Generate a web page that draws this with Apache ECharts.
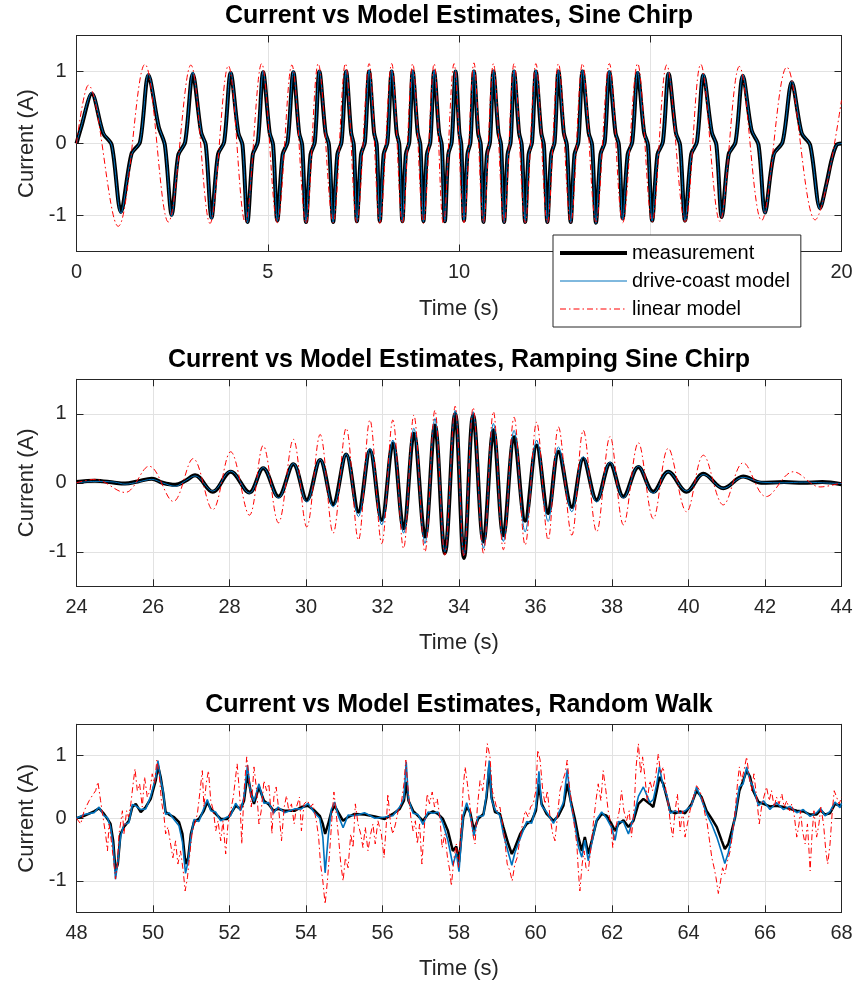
<!DOCTYPE html>
<html>
<head>
<meta charset="utf-8">
<script src="https://cdn.jsdelivr.net/npm/echarts@6/dist/echarts.min.js"></script>
<style>
  html, body { margin: 0; padding: 0; background: #fff; }
  #chart { width: 857px; height: 986px; }
</style>
</head>
<body>
<div id="chart"></div>
<script>
// ---- data ----
const titles = [
  'Current vs Model Estimates, Sine Chirp',
  'Current vs Model Estimates, Ramping Sine Chirp',
  'Current vs Model Estimates, Random Walk'
];
const seriesNames = ['measurement', 'drive-coast model', 'linear model'];
const yTicks = [-1, 0, 1];

// sine chirp: key points (extrema and zero-crossing shoulders)
const chirpTime = [0, 0.12, 0.40,
  0.70, 0.92, 1.16, 1.44, 1.66, 1.88,
  2.15, 2.31, 2.49, 2.66, 2.84, 3.04,
  3.26, 3.38, 3.53, 3.70, 3.86, 4.03,
  4.23, 4.34, 4.47, 4.61, 4.74, 4.88,
  5.05, 5.14, 5.25, 5.39, 5.52, 5.67,
  5.82, 5.90, 6.00, 6.12, 6.23, 6.35,
  6.51, 6.60, 6.71, 6.82, 6.93, 7.05,
  7.18, 7.25, 7.33, 7.44, 7.54, 7.65,
  7.78, 7.85, 7.93, 8.03, 8.13, 8.24,
  8.37, 8.44, 8.52, 8.61, 8.70, 8.79,
  8.92, 8.99, 9.07, 9.16, 9.25, 9.35,
  9.48, 9.55, 9.63, 9.72, 9.81, 9.91,
  10.01, 10.06, 10.13, 10.22, 10.30, 10.39,
  10.50, 10.57, 10.64, 10.73, 10.81, 10.90,
  11.03, 11.10, 11.18, 11.27, 11.35, 11.44,
  11.57, 11.64, 11.73, 11.82, 11.91, 12.01,
  12.15, 12.22, 12.31, 12.41, 12.50, 12.60,
  12.74, 12.82, 12.92, 13.02, 13.12, 13.23,
  13.39, 13.48, 13.58, 13.70, 13.81, 13.93,
  14.09, 14.18, 14.28, 14.41, 14.53, 14.67,
  14.84, 14.94, 15.05, 15.19, 15.33, 15.48,
  15.67, 15.78, 15.91, 16.07, 16.22, 16.39,
  16.61, 16.73, 16.87, 17.05, 17.23, 17.42,
  17.65, 17.83, 18.00, 18.23, 18.46, 18.70,
  18.96, 19.18, 19.44, 19.61, 19.74, 19.87, 20.00];
const chirpMeasurement = [0, 0.22, 0.69,
  0.14, -0.02, -0.95, -0.14, 0.02, 0.95,
  0.23, -0.02, -0.99, -0.16, 0.02, 0.97,
  0.15, -0.02, -1.03, -0.15, 0.02, 0.98,
  0.15, -0.02, -1.09, -0.15, 0.02, 0.99,
  0.15, -0.02, -1.07, -0.15, 0.02, 0.99,
  0.15, -0.02, -1.09, -0.15, 0.02, 1.00,
  0.15, -0.02, -1.09, -0.15, 0.02, 1.00,
  0.15, -0.02, -1.08, -0.15, 0.02, 1.00,
  0.15, -0.02, -1.08, -0.15, 0.02, 1.00,
  0.15, -0.02, -1.08, -0.15, 0.02, 1.00,
  0.15, -0.02, -1.08, -0.15, 0.02, 1.00,
  0.15, -0.02, -1.08, -0.15, 0.02, 1.00,
  0.15, -0.02, -1.07, -0.15, 0.02, 1.00,
  0.15, -0.02, -1.09, -0.15, 0.02, 1.00,
  0.15, -0.02, -1.09, -0.15, 0.02, 1.00,
  0.15, -0.02, -1.09, -0.15, 0.02, 1.00,
  0.15, -0.02, -1.09, -0.15, 0.02, 1.00,
  0.15, -0.02, -1.09, -0.15, 0.02, 1.00,
  0.15, -0.02, -1.10, -0.15, 0.02, 0.99,
  0.15, -0.02, -1.04, -0.15, 0.02, 0.98,
  0.15, -0.02, -1.07, -0.15, 0.02, 0.97,
  0.15, -0.02, -1.07, -0.15, 0.02, 0.95,
  0.15, -0.02, -1.02, -0.15, 0.02, 0.94,
  0.18, -0.02, -0.96, -0.15, 0.02, 0.85,
  0.14, -0.02, -0.90, -0.55, -0.23, -0.02, 0.00];
const chirpDriveCoast = [0, 0.23, 0.71,
  0.15, -0.02, -0.97, -0.15, 0.02, 0.97,
  0.24, -0.02, -1.01, -0.17, 0.02, 0.99,
  0.16, -0.02, -1.05, -0.16, 0.02, 1.00,
  0.16, -0.02, -1.10, -0.16, 0.02, 1.01,
  0.16, -0.02, -1.08, -0.16, 0.02, 1.01,
  0.16, -0.02, -1.10, -0.16, 0.02, 1.02,
  0.16, -0.02, -1.10, -0.16, 0.02, 1.02,
  0.16, -0.02, -1.09, -0.16, 0.02, 1.02,
  0.16, -0.02, -1.09, -0.16, 0.02, 1.02,
  0.16, -0.02, -1.09, -0.16, 0.02, 1.02,
  0.16, -0.02, -1.09, -0.16, 0.02, 1.02,
  0.16, -0.02, -1.09, -0.16, 0.02, 1.02,
  0.16, -0.02, -1.08, -0.16, 0.02, 1.02,
  0.16, -0.02, -1.10, -0.16, 0.02, 1.02,
  0.16, -0.02, -1.10, -0.16, 0.02, 1.02,
  0.16, -0.02, -1.10, -0.16, 0.02, 1.02,
  0.16, -0.02, -1.10, -0.16, 0.02, 1.02,
  0.16, -0.02, -1.10, -0.16, 0.02, 1.02,
  0.16, -0.02, -1.11, -0.16, 0.02, 1.01,
  0.16, -0.02, -1.06, -0.16, 0.02, 1.00,
  0.16, -0.02, -1.08, -0.16, 0.02, 0.99,
  0.16, -0.02, -1.08, -0.16, 0.02, 0.97,
  0.16, -0.02, -1.03, -0.16, 0.02, 0.96,
  0.19, -0.02, -0.97, -0.16, 0.02, 0.87,
  0.15, -0.02, -0.91, -0.56, -0.24, -0.02, 0.00];
const chirpLinear = [[0, 0], [0.31, 0.81], [1.09, -1.15], [1.79, 1.10], [2.40, -1.09], [2.99, 1.09],
  [3.49, -1.11], [3.97, 1.08], [4.41, -1.09], [4.84, 1.11], [5.25, -1.10], [5.63, 1.09], [6.00, -1.11],
  [6.32, 1.11], [6.71, -1.10], [7.03, 1.11], [7.33, -1.10], [7.65, 1.11], [7.93, -1.11], [8.24, 1.11],
  [8.52, -1.11], [8.79, 1.11], [9.07, -1.11], [9.35, 1.11], [9.59, -1.11], [9.87, 1.11], [10.13, -1.10],
  [10.39, 1.12], [10.64, -1.10], [10.90, 1.11], [11.18, -1.10], [11.44, 1.11], [11.73, -1.10], [12.01, 1.11],
  [12.31, -1.10], [12.60, 1.11], [12.92, -1.10], [13.23, 1.11], [13.58, -1.09], [13.93, 1.11], [14.28, -1.10],
  [14.67, 1.11], [15.05, -1.09], [15.43, 1.09], [15.91, -1.09], [16.32, 1.10], [16.82, -1.08], [17.33, 1.07],
  [17.91, -1.07], [18.57, 1.06], [19.31, -1.06], [20.00, 0.60]];

// ramping sine chirp: extrema
const rampTime = [24.00, 24.48, 25.00, 25.27, 25.60, 25.97, 26.25, 26.58, 26.85, 27.10, 27.56, 28.03, 28.52,
  28.88, 29.28, 29.67, 30.02, 30.37, 30.71, 31.05, 31.37, 31.67, 31.98, 32.27, 32.55, 32.82, 33.11, 33.37,
  33.63, 33.90, 34.13, 34.37, 34.64, 34.90, 35.16, 35.44, 35.73, 36.03, 36.33, 36.60, 36.95, 37.25, 37.60,
  37.95, 38.30, 38.69, 39.08, 39.47, 39.95, 40.39, 40.91, 41.43, 41.90, 42.50, 43.00, 43.50, 44.00];
const rampMeasurement = [0.01, 0.03, 0.00, -0.01, 0.02, 0.06, 0.00, -0.03, 0.03, 0.11, -0.13, 0.16, -0.14,
  0.21, -0.20, 0.27, -0.25, 0.33, -0.31, 0.41, -0.42, 0.47, -0.54, 0.57, -0.66, 0.71, -0.78, 0.83,
  -1.02, 1.00, -1.09, 0.98, -0.85, 0.76, -0.76, 0.66, -0.55, 0.54, -0.44, 0.45, -0.35, 0.35, -0.25,
  0.28, -0.20, 0.23, -0.13, 0.16, -0.13, 0.13, -0.08, 0.09, 0.00, 0.01, 0.00, 0.01, -0.02];
const rampDriveCoast = [0.00, 0.02, 0.01, -0.02, 0.01, 0.05, 0.00, -0.05, 0.03, 0.10, -0.12, 0.17, -0.15,
  0.22, -0.22, 0.28, -0.28, 0.34, -0.35, 0.42, -0.49, 0.50, -0.61, 0.62, -0.73, 0.79, -0.88, 0.93,
  -1.00, 1.05, -1.05, 1.03, -0.95, 0.86, -0.85, 0.76, -0.71, 0.62, -0.56, 0.52, -0.42, 0.38, -0.28,
  0.30, -0.22, 0.24, -0.15, 0.16, -0.12, 0.12, -0.08, 0.08, 0.01, 0.00, 0.01, 0.00, -0.01];
const rampLinear = [[24.00, 0.00], [24.48, 0.05], [25.27, -0.14], [25.90, 0.24], [26.53, -0.27], [27.05, 0.35],
  [27.56, -0.39], [28.03, 0.45], [28.52, -0.47], [28.88, 0.54], [29.28, -0.58], [29.67, 0.63], [30.02, -0.64],
  [30.37, 0.70], [30.71, -0.73], [31.05, 0.79], [31.37, -0.83], [31.67, 0.91], [31.98, -0.88], [32.27, 0.91],
  [32.55, -0.95], [32.82, 0.98], [33.11, -1.00], [33.37, 1.05], [33.63, -1.05], [33.90, 1.11], [34.13, -1.07],
  [34.37, 1.09], [34.64, -1.02], [34.90, 1.03], [35.16, -0.97], [35.44, 0.95], [35.73, -0.90], [36.03, 0.88],
  [36.33, -0.83], [36.60, 0.81], [36.95, -0.76], [37.25, 0.76], [37.60, -0.71], [37.95, 0.67], [38.30, -0.61],
  [38.69, 0.58], [39.08, -0.52], [39.47, 0.50], [39.95, -0.42], [40.39, 0.40], [40.91, -0.32], [41.43, 0.29],
  [42.03, -0.20], [42.74, 0.16], [43.44, -0.06], [44.00, 0.00]];

// random walk
const walkTime = [48.00, 48.20, 48.46, 48.59, 48.72, 48.81, 48.89, 48.96, 49.02, 49.08, 49.15, 49.24, 49.37,
  49.46, 49.55, 49.68, 49.81, 49.94, 50.07, 50.13, 50.20, 50.27, 50.33, 50.42, 50.55, 50.68, 50.77, 50.85,
  50.92, 50.99, 51.07, 51.20, 51.33, 51.42, 51.51, 51.64, 51.77, 51.94, 52.03, 52.16, 52.29, 52.38, 52.47,
  52.55, 52.64, 52.77, 52.90, 53.03, 53.15, 53.27, 53.44, 53.70, 53.88, 54.05, 54.23, 54.36, 54.44, 54.50,
  54.58, 54.66, 54.75, 54.84, 54.97, 55.10, 55.27, 55.53, 55.80, 56.06, 56.27, 56.45, 56.56, 56.62, 56.68,
  56.80, 56.93, 57.06, 57.19, 57.32, 57.45, 57.58, 57.71, 57.84, 57.93, 58.00, 58.06, 58.11, 58.20, 58.29,
  58.39, 58.50, 58.64, 58.72, 58.79, 58.85, 58.94, 59.07, 59.16, 59.29, 59.38, 59.46, 59.60, 59.77, 59.90,
  60.01, 60.09, 60.16, 60.29, 60.47, 60.60, 60.73, 60.83, 60.92, 61.03, 61.12, 61.21, 61.29, 61.38, 61.47,
  61.60, 61.73, 61.86, 61.99, 62.08, 62.17, 62.30, 62.43, 62.56, 62.69, 62.82, 62.99, 63.08, 63.17, 63.24,
  63.34, 63.43, 63.52, 63.65, 63.78, 63.91, 64.08, 64.21, 64.34, 64.47, 64.61, 64.74, 64.87, 64.95, 65.04,
  65.13, 65.22, 65.33, 65.43, 65.52, 65.61, 65.69, 65.83, 65.96, 66.13, 66.30, 66.48, 66.65, 66.83, 67.00,
  67.18, 67.35, 67.45, 67.57, 67.70, 67.83, 67.96, 68.00];
const walkMeasurement = [0.00, 0.04, 0.11, 0.16, 0.07, -0.01, -0.09, -0.36, -0.84, -0.73, -0.25, -0.14, -0.04,
  0.18, 0.23, 0.10, 0.18, 0.31, 0.60, 0.84, 0.66, 0.39, 0.10, 0.06, 0.02, -0.06, -0.25, -0.73,
  -0.63, -0.25, -0.06, -0.01, 0.12, 0.26, 0.15, 0.07, -0.01, -0.01, 0.07, 0.20, 0.15, 0.28, 0.71,
  0.44, 0.23, 0.50, 0.28, 0.22, 0.12, 0.15, 0.12, 0.12, 0.18, 0.20, 0.12, 0.04, -0.09, -0.25,
  -0.09, 0.10, 0.20, 0.10, -0.04, 0.02, 0.07, 0.06, 0.03, -0.01, 0.07, 0.15, 0.28, 0.58, 0.28,
  0.12, 0.04, -0.04, 0.07, 0.11, 0.07, -0.01, -0.20, -0.52, -0.45, -0.70, -0.30, 0.02, 0.18, 0.10,
  -0.19, -0.01, 0.07, 0.34, 0.82, 0.34, 0.10, 0.07, -0.14, -0.41, -0.57, -0.47, -0.25, -0.09, -0.04,
  0.12, 0.55, 0.23, 0.07, -0.04, 0.04, 0.20, 0.55, 0.28, -0.01, -0.30, -0.52, -0.30, -0.57, -0.36,
  -0.04, 0.07, 0.04, -0.09, -0.20, -0.09, -0.03, -0.14, -0.04, 0.23, 0.31, 0.23, 0.18, 0.44, 0.66,
  0.55, 0.34, 0.12, 0.08, 0.11, 0.08, 0.23, 0.44, 0.34, 0.12, -0.01, -0.14, -0.36, -0.49, -0.41,
  -0.20, 0.02, 0.44, 0.60, 0.76, 0.66, 0.44, 0.26, 0.23, 0.19, 0.20, 0.18, 0.15, 0.12, 0.11,
  0.06, 0.06, 0.13, 0.06, 0.08, 0.23, 0.20, 0.22];
const walkDriveCoast = [0.00, 0.06, 0.09, 0.18, 0.04, 0.01, -0.14, -0.45, -0.97, -0.70, -0.30, -0.10, -0.07,
  0.22, 0.20, 0.14, 0.15, 0.35, 0.65, 0.92, 0.62, 0.42, 0.06, 0.09, -0.02, -0.12, -0.38, -0.88,
  -0.68, -0.30, -0.02, -0.05, 0.16, 0.30, 0.12, 0.10, -0.04, 0.02, 0.04, 0.24, 0.12, 0.34, 0.85,
  0.40, 0.27, 0.55, 0.24, 0.25, 0.08, 0.18, 0.09, 0.15, 0.15, 0.24, 0.08, 0.00, -0.30, -0.87,
  -0.30, 0.14, 0.26, 0.05, -0.15, 0.05, 0.04, 0.09, 0.00, 0.02, 0.04, 0.18, 0.32, 0.90, 0.30,
  0.08, 0.06, -0.10, 0.10, 0.08, 0.10, -0.08, -0.35, -0.75, -0.55, -0.85, -0.35, 0.05, 0.25, 0.06,
  -0.28, 0.03, 0.04, 0.40, 0.92, 0.30, 0.14, 0.04, -0.25, -0.55, -0.75, -0.55, -0.32, -0.05, -0.08,
  0.18, 0.75, 0.20, 0.10, -0.08, 0.08, 0.25, 0.78, 0.24, -0.10, -0.45, -0.62, -0.35, -0.68, -0.40,
  -0.02, 0.10, 0.00, -0.15, -0.35, -0.05, -0.06, -0.25, 0.00, 0.35, 0.50, 0.25, 0.30, 0.55, 0.82,
  0.50, 0.38, 0.08, 0.12, 0.08, 0.12, 0.20, 0.50, 0.30, 0.08, -0.10, -0.30, -0.55, -0.72, -0.55,
  -0.30, 0.05, 0.50, 0.55, 0.82, 0.60, 0.50, 0.20, 0.28, 0.14, 0.25, 0.14, 0.19, 0.09, 0.14,
  0.03, 0.09, 0.16, 0.04, 0.11, 0.26, 0.17, 0.24];
const walkLinear = [[48.00, 0.00], [48.11, -0.09], [48.20, 0.12], [48.33, 0.28], [48.41, 0.36], [48.50, 0.44],
  [48.56, 0.58], [48.63, 0.28], [48.72, -0.09], [48.76, -0.25], [48.81, -0.52], [48.85, -0.09], [48.91, -0.36],
  [48.98, -0.73], [49.02, -0.97], [49.07, -0.73], [49.11, -0.25], [49.15, -0.09], [49.20, 0.12], [49.24, -0.25],
  [49.31, 0.12], [49.36, 0.02], [49.42, 0.23], [49.49, 0.60], [49.53, 0.79], [49.59, 0.44], [49.65, 0.55],
  [49.72, 0.18], [49.78, 0.66], [49.85, 0.34], [49.92, 0.44], [49.98, 0.71], [50.04, 0.55], [50.10, 0.93],
  [50.16, 0.71], [50.22, 0.28], [50.29, 0.02], [50.33, -0.25], [50.39, -0.14], [50.46, -0.41], [50.52, -0.63],
  [50.59, -0.36], [50.65, -0.73], [50.72, -0.52], [50.79, -0.84], [50.84, -1.16], [50.90, -0.95], [50.97, -0.52],
  [51.03, -0.20], [51.09, -0.09], [51.16, 0.07], [51.23, 0.44], [51.29, 0.76], [51.33, 0.18], [51.39, 0.55],
  [51.45, 0.76], [51.51, 0.28], [51.58, 0.12], [51.64, -0.20], [51.70, -0.04], [51.77, -0.36], [51.83, -0.04],
  [51.90, -0.57], [51.96, -0.09], [52.03, 0.12], [52.10, 0.34], [52.16, 0.66], [52.20, 0.87], [52.27, 0.34],
  [52.32, -0.41], [52.38, 0.44], [52.45, 0.98], [52.51, 0.66], [52.57, 0.18], [52.64, 0.82], [52.71, 0.44],
  [52.77, -0.09], [52.83, 0.12], [52.90, 0.60], [52.97, 0.44], [53.03, 0.55], [53.08, 0.12], [53.11, -0.25],
  [53.16, 0.34], [53.22, 0.50], [53.29, 0.12], [53.36, -0.36], [53.43, 0.18], [53.49, 0.36], [53.55, 0.12],
  [53.62, 0.23], [53.69, -0.09], [53.75, 0.18], [53.83, 0.34], [53.88, -0.20], [53.95, 0.23], [54.04, 0.28],
  [54.12, 0.18], [54.18, 0.23], [54.27, -0.04], [54.33, -0.30], [54.38, -0.73], [54.44, -1.00], [54.50, -1.37],
  [54.56, -1.00], [54.62, -0.52], [54.68, 0.02], [54.73, 0.42], [54.79, 0.07], [54.85, -0.30], [54.91, -0.73],
  [54.97, -1.00], [55.03, -0.63], [55.10, -0.79], [55.17, -0.25], [55.23, -0.47], [55.29, 0.23], [55.36, -0.09],
  [55.43, -0.25], [55.49, -0.47], [55.55, -0.14], [55.62, -0.52], [55.69, -0.25], [55.75, -0.09], [55.81, -0.41],
  [55.88, -0.04], [55.97, -0.25], [56.04, -0.63], [56.10, -0.09], [56.14, 0.39], [56.21, -0.09], [56.27, -0.25],
  [56.34, -0.09], [56.41, 0.12], [56.49, 0.23], [56.56, 0.55], [56.61, 0.93], [56.67, 0.44], [56.74, 0.02],
  [56.80, -0.20], [56.86, -0.04], [56.91, -0.41], [56.97, -0.09], [57.03, -0.73], [57.10, -0.09], [57.17, 0.39],
  [57.23, 0.23], [57.30, 0.42], [57.36, 0.18], [57.43, 0.31], [57.50, 0.02], [57.56, -0.47], [57.63, -0.25],
  [57.70, -0.63], [57.76, -0.84], [57.80, -1.08], [57.87, -0.63], [57.93, -0.41], [57.99, -0.79], [58.06, -0.09],
  [58.11, 0.50], [58.16, 0.82], [58.22, 0.55], [58.29, 0.18], [58.36, -0.25], [58.42, -0.41], [58.48, 0.18],
  [58.55, 0.60], [58.62, 0.44], [58.68, 0.76], [58.74, 1.19], [58.81, 0.98], [58.87, 0.44], [58.94, 0.28],
  [59.00, 0.12], [59.07, 0.18], [59.14, -0.09], [59.20, -0.36], [59.26, -0.73], [59.33, -0.84], [59.39, -1.00],
  [59.46, -0.73], [59.52, -0.63], [59.60, -0.30], [59.66, -0.09], [59.73, 0.12], [59.81, 0.02], [59.87, 0.18],
  [59.94, 0.23], [60.01, 0.44], [60.06, 1.09], [60.12, 0.93], [60.19, 0.44], [60.25, 0.23], [60.31, 0.44],
  [60.38, 0.02], [60.45, -0.25], [60.51, -0.36], [60.57, 0.02], [60.64, 0.44], [60.71, 0.60], [60.77, 0.71],
  [60.83, 0.93], [60.88, 0.55], [60.95, 0.23], [61.01, -0.09], [61.08, -0.41], [61.12, -0.84], [61.16, -1.16],
  [61.22, -0.73], [61.27, -0.52], [61.32, -0.79], [61.38, -0.84], [61.44, -0.52], [61.51, -0.09], [61.58, 0.28],
  [61.64, 0.55], [61.71, 0.28], [61.77, 0.76], [61.84, 0.44], [61.90, 0.12], [61.97, -0.09], [62.02, -0.47],
  [62.06, -0.20], [62.12, -0.09], [62.19, 0.12], [62.25, 0.44], [62.31, 0.12], [62.38, -0.04], [62.45, 0.12],
  [62.51, -0.30], [62.58, 0.18], [62.63, 0.82], [62.69, 1.19], [62.75, 0.71], [62.80, 0.98], [62.86, 0.66],
  [62.92, 0.28], [62.99, 0.60], [63.06, 0.44], [63.15, 0.71], [63.21, 1.03], [63.27, 0.71], [63.34, 0.82],
  [63.41, 0.44], [63.47, 0.23], [63.53, -0.09], [63.59, -0.30], [63.65, 0.12], [63.71, 0.39], [63.78, -0.20],
  [63.85, 0.12], [63.91, -0.30], [63.97, -0.09], [64.04, 0.12], [64.13, 0.34], [64.21, 0.52], [64.30, 0.44],
  [64.37, 0.28], [64.43, 0.07], [64.49, -0.09], [64.55, -0.36], [64.61, -0.63], [64.67, -0.79], [64.72, -0.95],
  [64.78, -1.20], [64.84, -1.00], [64.89, -0.79], [64.95, -0.89], [65.02, -0.68], [65.09, -0.52], [65.15, -0.25],
  [65.22, 0.12], [65.28, 0.55], [65.33, 0.82], [65.39, 0.60], [65.45, 0.76], [65.52, 0.98], [65.59, 0.66],
  [65.65, 0.44], [65.71, 0.71], [65.78, 0.34], [65.85, -0.09], [65.91, 0.18], [65.97, 0.34], [66.04, 0.50],
  [66.11, 0.28], [66.17, 0.44], [66.24, 0.18], [66.30, 0.34], [66.37, 0.23], [66.44, 0.39], [66.50, 0.18],
  [66.57, 0.28], [66.64, 0.12], [66.70, 0.23], [66.76, 0.07], [66.83, -0.30], [66.89, -0.09], [66.93, 0.12],
  [66.98, -0.20], [67.05, -0.41], [67.11, -0.09], [67.18, -0.84], [67.23, -0.25], [67.28, 0.12], [67.35, -0.30],
  [67.41, -0.09], [67.46, 0.18], [67.53, -0.09], [67.59, -0.52], [67.64, -0.73], [67.70, -0.41], [67.76, 0.12],
  [67.81, 0.44], [67.87, 0.34], [67.94, 0.23], [68.00, 0.34]];

const xRanges = [[0, 20, 5], [24, 44, 2], [48, 68, 2]];

// ---- chart ----
const FONT = '"Liberation Sans", Arial, Helvetica, sans-serif';
const AXIS_COLOR = '#262626';
const GRID_COLOR = '#e2e2e2';
const BLUE = '#0072BD';
const RED = '#ff0000';

function zip(t, v) { return t.map((x, i) => [x, v[i]]); }

const grids = [
  { left: 76.5, top: 35.5, width: 765, height: 216 },
  { left: 76.5, top: 379.3, width: 765, height: 207 },
  { left: 76.5, top: 724.3, width: 765, height: 188 }
];
const titleTops = [3, 347, 692];

const xAxis = [], yAxis = [];
xRanges.forEach((r, i) => {
  const base = {
    type: 'value', gridIndex: i, min: r[0], max: r[1], interval: r[2],
    axisLine: { show: true, onZero: false, lineStyle: { color: AXIS_COLOR, width: 1 } },
    axisTick: { inside: true, length: 7, lineStyle: { color: AXIS_COLOR } }
  };
  xAxis.push(Object.assign({}, base, {
    position: 'bottom',
    axisLabel: { fontFamily: FONT, fontSize: 20, color: AXIS_COLOR, margin: 11 },
    splitLine: { show: true, lineStyle: { color: GRID_COLOR, width: 1 } },
    name: 'Time (s)', nameLocation: 'middle', nameGap: 46,
    nameTextStyle: { fontFamily: FONT, fontSize: 22, color: AXIS_COLOR }
  }));
  xAxis.push(Object.assign({}, base, {
    position: 'top', axisLabel: { show: false }, splitLine: { show: false }
  }));
  const ybase = {
    type: 'value', gridIndex: i, min: -1.5, max: 1.5,
    axisLine: { show: true, onZero: false, lineStyle: { color: AXIS_COLOR, width: 1 } },
    axisTick: { inside: true, length: 7, customValues: yTicks, lineStyle: { color: AXIS_COLOR } }
  };
  yAxis.push(Object.assign({}, ybase, {
    position: 'left',
    axisLabel: { fontFamily: FONT, fontSize: 20, color: AXIS_COLOR, margin: 10, customValues: yTicks },
    splitLine: { show: true, lineStyle: { color: GRID_COLOR, width: 1 } },
    name: 'Current (A)', nameLocation: 'middle', nameGap: 31,
    nameTextStyle: { fontFamily: FONT, fontSize: 22, color: AXIS_COLOR }
  }));
  yAxis.push(Object.assign({}, ybase, {
    position: 'right', axisLabel: { show: false }, splitLine: { show: false }
  }));
});

function line(name, grid, data, style, smooth) {
  return {
    name: name, type: 'line', xAxisIndex: grid * 2, yAxisIndex: grid * 2,
    data: data, symbol: 'none', showSymbol: false, smooth: smooth,
    lineStyle: style, itemStyle: { color: style.color }, animation: false, silent: true
  };
}
const measStyle = (w) => ({ color: '#000000', width: w });
const driveStyle = (w) => ({ color: BLUE, width: w });
const linStyle = { color: RED, width: 1, type: [6, 3, 1.5, 3] };

const series = [
  line(seriesNames[0], 0, zip(chirpTime, chirpMeasurement), measStyle(4), 0.3),
  line(seriesNames[1], 0, zip(chirpTime, chirpDriveCoast), driveStyle(1), 0.3),
  line(seriesNames[2], 0, chirpLinear, linStyle, 0.36),
  line(seriesNames[0], 1, zip(rampTime, rampMeasurement), measStyle(4), 0.36),
  line(seriesNames[1], 1, zip(rampTime, rampDriveCoast), driveStyle(1), 0.36),
  line(seriesNames[2], 1, rampLinear, linStyle, 0.36),
  line(seriesNames[0], 2, zip(walkTime, walkMeasurement), measStyle(2.5), false),
  line(seriesNames[1], 2, zip(walkTime, walkDriveCoast), driveStyle(1.6), false),
  line(seriesNames[2], 2, walkLinear, linStyle, false)
];

const chart = echarts.init(document.getElementById('chart'), null, { renderer: 'canvas' });
chart.setOption({
  backgroundColor: '#ffffff',
  animation: false,
  title: titles.map((t, i) => ({
    text: t, left: 459, top: titleTops[i], textAlign: 'center', padding: 0,
    textStyle: { fontFamily: FONT, fontSize: 25, fontWeight: 'bold', color: '#000', lineHeight: 26 }
  })),
  legend: {
    data: seriesNames, orient: 'vertical', left: 553, top: 235,
    itemWidth: 67, itemHeight: 20, itemGap: 8,
    padding: [8, 11, 8, 5],
    backgroundColor: '#ffffff', borderColor: AXIS_COLOR, borderWidth: 1, borderRadius: 0,
    itemStyle: { opacity: 0 },
    lineStyle: { width: 'inherit' },
    textStyle: { fontFamily: FONT, fontSize: 20, color: '#000' },
    selectedMode: false, z: 10
  },
  grid: grids,
  xAxis: xAxis,
  yAxis: yAxis,
  series: series
});
</script>
</body>
</html>
